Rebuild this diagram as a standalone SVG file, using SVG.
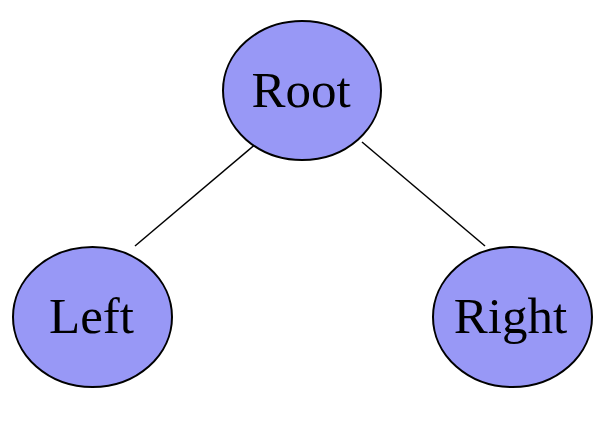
<svg xmlns="http://www.w3.org/2000/svg" width="606" height="422" viewBox="0 0 606 422">
  <style>
    .node ellipse { fill: #9898f6; stroke: #000; stroke-width: 2; }
    .node text { font-family: "Liberation Serif", "Times New Roman", serif; font-size: 51px; fill: #000; text-anchor: middle; }
    .edge { stroke: #000; stroke-width: 1.5; fill: none; }
  </style>
  <rect width="606" height="422" fill="#fff"/>
  <g id="edges">
    <line class="edge" x1="257" y1="143" x2="135" y2="246"/>
    <line class="edge" x1="362" y1="142" x2="485" y2="246"/>
  </g>
  <g id="root" class="node">
    <ellipse cx="302" cy="90.5" rx="79" ry="69.5"/>
    <text x="301" y="107">Root</text>
  </g>
  <g id="left" class="node">
    <ellipse cx="92.5" cy="317" rx="79.5" ry="70"/>
    <text x="91.5" y="333">Left</text>
  </g>
  <g id="right" class="node">
    <ellipse cx="512.5" cy="317" rx="79.5" ry="70"/>
    <text x="510.5" y="333">Right</text>
  </g>
</svg>
